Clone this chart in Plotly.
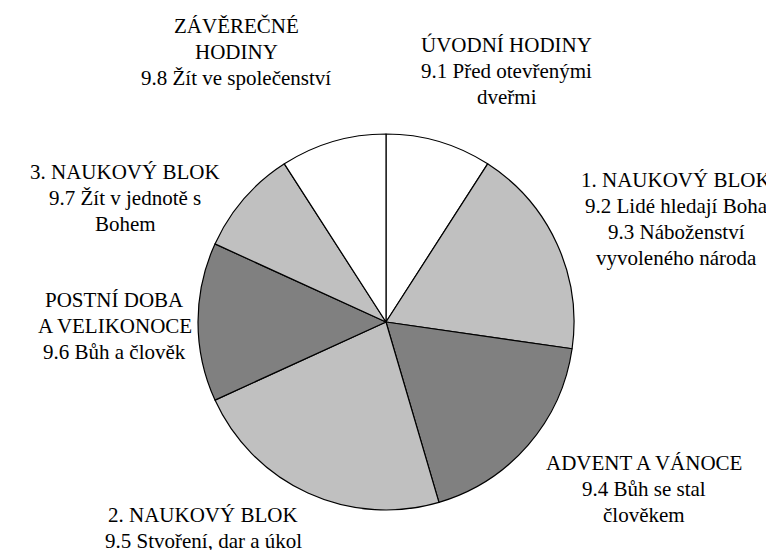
import plotly.graph_objs as go

# data: lesson blocks of the school year, clockwise from the top
blocks = ['ÚVODNÍ HODINY', '1. NAUKOVÝ BLOK', 'ADVENT A VÁNOCE', '2. NAUKOVÝ BLOK',
          'POSTNÍ DOBA', '3. NAUKOVÝ BLOK', 'ZÁVĚREČNÉ HODINY']
hours = [2, 4, 4, 5, 3, 2, 2]
colors = ['#ffffff', '#c0c0c0', '#808080', '#c0c0c0', '#808080', '#c0c0c0', '#ffffff']

# text of the outside labels, line by line
label_lines = [['ÚVODNÍ HODINY', '9.1 Před otevřenými', 'dveřmi'],
               ['1. NAUKOVÝ BLOK', '9.2 Lidé hledají Boha', '9.3 Náboženství', 'vyvoleného národa'],
               ['ADVENT A VÁNOCE', '9.4 Bůh se stal', 'člověkem'],
               ['2. NAUKOVÝ BLOK', '9.5 Stvoření, dar a úkol'],
               ['POSTNÍ DOBA', 'A VELIKONOCE', '9.6 Bůh a člověk'],
               ['3. NAUKOVÝ BLOK', '9.7 Žít v jednotě s', 'Bohem'],
               ['ZÁVĚREČNÉ', 'HODINY', '9.8 Žít ve společenství']]

W, H = 774, 550

# label positions in pixels: centre x, y of the first line (from top)
label_x = [499, 668, 636, 195, 107, 117, 228]
label_y0 = [37, 172, 455, 507, 292, 164, 18]
line_gap = 26

fig = go.Figure()

fig.add_trace(go.Pie(
    labels=blocks,
    values=hours,
    sort=False,
    direction='clockwise',
    rotation=0,
    textinfo='none',
    hoverinfo='label+value',
    showlegend=False,
    marker=dict(colors=colors, line=dict(color='black', width=1.2)),
    domain=dict(x=[190 / W, 566 / W], y=[48 / H, 424 / H])
))

# outside labels, one annotation per line
for lines, px, py in zip(label_lines, label_x, label_y0):
    for i, line in enumerate(lines):
        fig.add_annotation(
            text=line,
            x=px / W, y=1 - (py + i * line_gap) / H,
            xref='paper', yref='paper',
            xanchor='center', yanchor='middle',
            showarrow=False,
            font=dict(family='Liberation Serif, Times New Roman, serif', size=21, color='black')
        )

fig.update_layout(
    width=W, height=H,
    margin=dict(l=0, r=0, t=0, b=0),
    paper_bgcolor='white',
    plot_bgcolor='white'
)

fig.write_html('out.html')
